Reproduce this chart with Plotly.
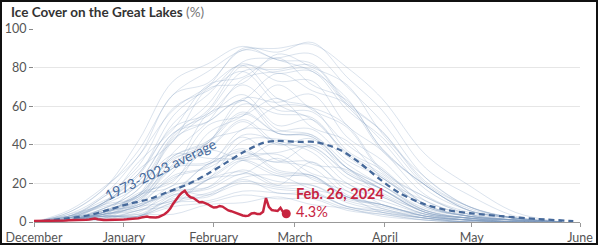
import plotly.graph_objects as go

# ---------------- data ----------------
month_ticks = [0, 31, 62, 90, 121, 151, 188.3]
month_labels = ["December", "January", "February", "March", "April", "May", "June"]

# sample days (days since Dec 1) for historic seasons
hist_days = [0, 12, 24, 36, 48, 60, 72, 84, 96, 108, 120, 135, 150, 166, 182]

hist_years = list(range(1973, 2024))
hist_values = [
    [0, 1, 4, 9, 16, 30, 36, 31, 40, 28, 19, 7, 3, 1, 0],      # 1973
    [0, 3, 5, 14, 22, 37, 33, 41, 30, 27, 14, 6, 2, 1, 0],     # 1974
    [0, 1, 3, 8, 11, 22, 26, 19, 31, 16, 11, 4, 1, 0, 0],      # 1975
    [0, 2, 8, 13, 33, 38, 52, 40, 43, 25, 17, 6, 2, 1, 0],     # 1976
    [0, 6, 18, 34, 66, 72, 89, 84, 78, 64, 38, 19, 6, 2, 0],   # 1977
    [0, 3, 9, 27, 42, 69, 72, 87, 80, 71, 46, 23, 8, 2, 0],    # 1978
    [0, 2, 13, 25, 55, 70, 90, 88, 93, 75, 58, 28, 14, 3, 0],  # 1979
    [0, 2, 4, 15, 21, 46, 55, 71, 58, 49, 26, 13, 4, 1, 0],    # 1980
    [0, 4, 14, 34, 58, 70, 81, 64, 59, 37, 27, 9, 3, 1, 0],    # 1981
    [0, 1, 7, 17, 44, 58, 81, 77, 78, 58, 44, 19, 7, 2, 0],    # 1982
    [0, 1, 3, 3, 10, 14, 23, 24, 17, 13, 5, 2, 1, 0, 0],       # 1983
    [0, 3, 10, 21, 46, 55, 66, 50, 53, 34, 23, 8, 3, 1, 0],    # 1984
    [0, 1, 10, 24, 51, 66, 82, 73, 73, 50, 37, 14, 5, 1, 0],   # 1985
    [0, 2, 5, 19, 28, 56, 63, 77, 68, 61, 37, 19, 6, 2, 0],    # 1986
    [0, 1, 3, 4, 12, 13, 22, 15, 15, 8, 6, 2, 0, 0, 0],        # 1987
    [0, 1, 5, 11, 32, 41, 61, 56, 54, 35, 24, 8, 3, 1, 0],     # 1988
    [0, 3, 4, 14, 19, 42, 48, 60, 59, 50, 27, 13, 4, 1, 0],    # 1989
    [0, 2, 9, 13, 29, 31, 44, 32, 31, 18, 13, 4, 2, 0, 0],     # 1990
    [0, 1, 5, 10, 23, 28, 37, 26, 24, 13, 9, 3, 1, 0, 0],      # 1991
    [0, 1, 2, 9, 15, 30, 33, 35, 25, 20, 9, 4, 1, 0, 0],       # 1992
    [0, 1, 5, 10, 30, 41, 64, 62, 66, 44, 32, 11, 4, 1, 0],    # 1993
    [0, 5, 17, 42, 73, 82, 91, 84, 82, 62, 47, 20, 8, 2, 0],   # 1994
    [0, 1, 6, 11, 28, 38, 53, 41, 38, 23, 15, 5, 2, 0, 0],     # 1995
    [0, 4, 10, 31, 48, 71, 75, 85, 71, 63, 38, 19, 6, 2, 0],   # 1996
    [0, 2, 10, 21, 46, 52, 63, 48, 45, 28, 19, 6, 2, 1, 0],    # 1997
    [0, 1, 3, 3, 8, 10, 14, 12, 12, 6, 4, 1, 0, 0, 0],         # 1998
    [0, 1, 3, 5, 17, 22, 32, 25, 23, 13, 8, 3, 1, 0, 0],       # 1999
    [0, 1, 1, 6, 9, 22, 25, 33, 22, 16, 7, 3, 1, 0, 0],        # 2000
    [0, 3, 11, 19, 35, 33, 32, 24, 24, 13, 9, 3, 1, 0, 0],     # 2001
    [0, 1, 2, 4, 4, 9, 10, 13, 9, 7, 3, 1, 0, 0, 0],           # 2002
    [0, 2, 7, 17, 42, 57, 78, 79, 81, 61, 47, 21, 8, 2, 0],    # 2003
    [0, 1, 5, 14, 43, 52, 63, 46, 45, 30, 19, 6, 2, 1, 0],     # 2004
    [0, 2, 3, 12, 26, 50, 55, 64, 49, 42, 23, 11, 3, 1, 0],    # 2005
    [0, 1, 4, 8, 16, 18, 27, 19, 19, 11, 7, 2, 1, 0, 0],       # 2006
    [0, 1, 2, 3, 13, 22, 42, 43, 39, 26, 17, 5, 2, 0, 0],      # 2007
    [0, 1, 6, 9, 24, 29, 48, 47, 48, 32, 23, 8, 3, 1, 0],      # 2008
    [0, 3, 13, 29, 59, 68, 78, 61, 53, 36, 25, 9, 3, 1, 0],    # 2009
    [0, 1, 5, 12, 28, 30, 38, 27, 24, 12, 9, 3, 1, 0, 0],      # 2010
    [0, 1, 7, 14, 34, 41, 56, 46, 44, 28, 17, 5, 2, 0, 0],     # 2011
    [0, 1, 3, 3, 10, 11, 16, 15, 13, 7, 4, 1, 0, 0, 0],        # 2012
    [0, 1, 4, 8, 19, 23, 34, 36, 39, 25, 17, 5, 2, 0, 0],      # 2013
    [0, 5, 17, 37, 66, 78, 89, 90, 92, 80, 64, 35, 19, 5, 0],  # 2014
    [0, 2, 9, 19, 45, 61, 83, 85, 87, 70, 52, 23, 8, 2, 0],    # 2015
    [0, 1, 3, 3, 14, 18, 32, 31, 28, 14, 9, 3, 1, 0, 0],       # 2016
    [0, 1, 4, 8, 16, 14, 20, 17, 15, 8, 5, 2, 0, 0, 0],        # 2017
    [0, 3, 10, 25, 49, 56, 71, 58, 57, 40, 28, 9, 3, 1, 0],    # 2018
    [0, 1, 6, 13, 36, 52, 74, 78, 79, 60, 42, 17, 6, 2, 0],    # 2019
    [0, 1, 2, 6, 11, 15, 21, 18, 16, 8, 5, 2, 0, 0, 0],        # 2020
    [0, 1, 4, 7, 17, 25, 45, 42, 36, 20, 13, 4, 1, 0, 0],      # 2021
    [0, 1, 5, 14, 34, 42, 57, 46, 44, 28, 17, 5, 2, 0, 0],     # 2022
    [0, 1, 4, 6, 14, 17, 25, 21, 19, 10, 6, 2, 0, 0, 0],       # 2023
]

avg_days = [0, 6, 12, 19, 26, 33, 40, 46, 53, 60, 66, 72, 79, 84, 91, 97,
            102, 106, 112, 119, 126, 135, 143, 151, 161, 174, 186]
avg_values = [0, 1, 2, 3.5, 6.5, 9.5, 12, 15.5, 19.5, 25, 30.5, 36, 41, 42,
              41.5, 41.5, 39.5, 37, 31, 22.5, 15, 9, 6, 4.5, 3, 1.5, 0.5]

days_2024 = list(range(88))
values_2024 = [0.5, 0.5, 0.5, 0.6, 0.6, 0.6, 0.7, 0.7, 0.7, 0.8, 0.8, 0.8, 0.9, 0.9,
               1.0, 1.0, 1.1, 1.1, 1.2, 1.3, 1.5, 1.8, 1.4, 1.1, 1.0, 1.0, 1.0, 1.1,
               1.1, 1.2, 1.2, 1.3, 1.4, 1.5, 1.6, 1.8, 2.0, 2.3, 2.6, 2.8, 2.4, 2.2,
               2.3, 2.6, 3.2, 4.0, 5.2, 7.0, 9.5, 11.8, 13.6, 15.2, 16.2, 14.0, 12.8,
               12.4, 11.2, 10.2, 10.4, 10.0, 9.2, 8.2, 7.5, 7.6, 8.3, 8.0, 6.9, 6.0,
               5.6, 5.0, 4.2, 3.6, 3.4, 3.1, 3.3, 4.4, 4.6, 4.2, 4.1, 5.3, 12.4, 7.8,
               6.2, 5.9, 5.7, 7.3, 4.9, 4.3]

y_ticks = [0, 20, 40, 60, 80, 100]

# ---------------- figure ----------------
FONT = "Lato"
RED = "#c7243f"
BLUE = "#46699a"

fig = go.Figure()

for yr, vals in zip(hist_years, hist_values):
    fig.add_trace(go.Scatter(
        x=hist_days, y=vals, mode="lines", name=str(yr),
        line=dict(color="rgba(130,158,192,0.32)", width=0.9, shape="spline", smoothing=1.0),
        hoverinfo="skip", showlegend=False))

fig.add_trace(go.Scatter(
    x=avg_days, y=avg_values, mode="lines", name="1973-2023 average",
    line=dict(color=BLUE, width=2.3, dash="6px,4px", shape="spline", smoothing=0.8),
    showlegend=False))

fig.add_trace(go.Scatter(
    x=days_2024, y=values_2024, mode="lines", name="2024",
    line=dict(color=RED, width=2.5), showlegend=False))

fig.add_trace(go.Scatter(
    x=[days_2024[-1]], y=[values_2024[-1]], mode="markers",
    marker=dict(color=RED, size=9), showlegend=False))

fig.add_annotation(x=43.5, y=27.0, xref="x", yref="y", text="1973-2023 average",
                   showarrow=False, textangle=-26,
                   font=dict(family=FONT, size=14, color=BLUE))
fig.add_annotation(x=89.5, y=14.8, xref="x", yref="y", text="<b>Feb. 26, 2024</b>",
                   showarrow=False, xanchor="left",
                   font=dict(family=FONT, size=14.5, color=RED))
fig.add_annotation(x=89.5, y=5.5, xref="x", yref="y", text="4.3%",
                   showarrow=False, xanchor="left",
                   font=dict(family=FONT, size=14.5, color=RED))

fig.add_annotation(x=-25 / 546, y=(222 - 12) / 193, xref="paper", yref="paper",
                   xanchor="left", yanchor="middle", showarrow=False,
                   text="<b>Ice Cover on the Great Lakes</b> <span style='color:#777'>(%)</span>",
                   font=dict(family=FONT, size=13.5, color="#333"))

# frame around the whole graphic
fig.add_shape(type="rect", xref="paper", yref="paper",
              x0=(1 - 34) / 546, x1=(597 - 34) / 546,
              y0=(222 - 244) / 193, y1=(222 - 1) / 193,
              line=dict(color="#111", width=2), fillcolor="rgba(0,0,0,0)")

fig.update_layout(
    width=600, height=247,
    margin=dict(l=34, r=20, t=29, b=25),
    paper_bgcolor="white", plot_bgcolor="white",
    font=dict(family=FONT, color="#555", size=12),
    xaxis=dict(range=[0, 188.3], tickvals=month_ticks, ticktext=month_labels,
               showgrid=False, zeroline=False, showline=True, linecolor="#999",
               linewidth=1, ticks="outside", ticklen=4, tickcolor="#999",
               tickfont=dict(size=12.5, color="#555"), automargin=False,
               fixedrange=True),
    yaxis=dict(range=[0, 100], tickvals=y_ticks, showgrid=True, gridcolor="#e6e6e6",
               gridwidth=1, zeroline=False, showline=False, ticks="outside",
               ticklen=4, tickcolor="#888", tickfont=dict(size=12.5, color="#555"),
               automargin=False, fixedrange=True),
)

fig.write_html("out.html")
